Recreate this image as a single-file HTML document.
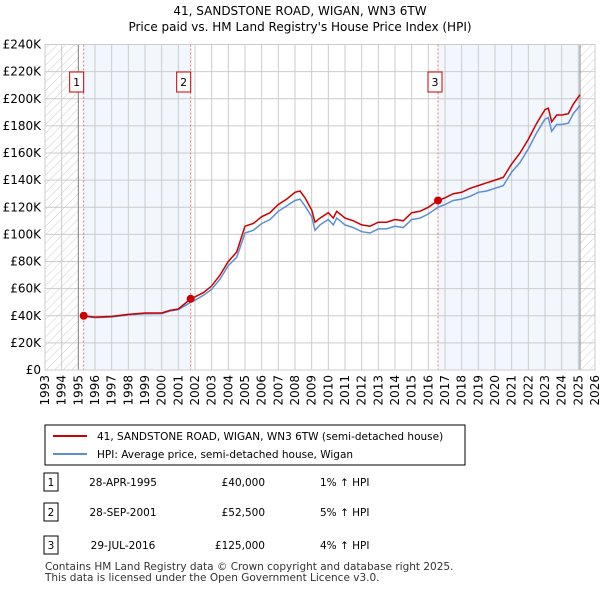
<!DOCTYPE html>
<html><head><meta charset="utf-8"><style>
body{margin:0;background:#fff;font-family:"DejaVu Sans",sans-serif;}
svg text{font-family:"DejaVu Sans",sans-serif;}
</style></head><body>
<svg id="c" width="600" height="590" xmlns="http://www.w3.org/2000/svg">
<defs><pattern id="h" width="6" height="6" patternUnits="userSpaceOnUse" patternTransform="rotate(45)"><line x1="0" y1="0" x2="0" y2="6" stroke="#ccc" stroke-width="1"/></pattern></defs>
<text x="300" y="15" text-anchor="middle" font-size="12">41, SANDSTONE ROAD, WIGAN, WN3 6TW</text>
<text x="300" y="31" text-anchor="middle" font-size="12">Price paid vs. HM Land Registry's House Price Index (HPI)</text>
<g id="plot"></g>
<g>
<rect x="45" y="425" width="420" height="40" fill="#fff" stroke="#000" stroke-width="1"/>
<line x1="53" y1="436" x2="87" y2="436" stroke="#cc0000" stroke-width="2"/>
<text x="97" y="440" font-size="10.5">41, SANDSTONE ROAD, WIGAN, WN3 6TW (semi-detached house)</text>
<line x1="53" y1="454" x2="87" y2="454" stroke="#5b8fd4" stroke-width="2"/>
<text x="97" y="458" font-size="10.5">HPI: Average price, semi-detached house, Wigan</text>
</g>
<g id="tbl" font-size="10.5"></g>
<text x="45" y="570" font-size="10.5" fill="#333">Contains HM Land Registry data © Crown copyright and database right 2025.</text>
<text x="45" y="581" font-size="10.5" fill="#333">This data is licensed under the Open Government Licence v3.0.</text>
</svg>
<script>
const yearTicks=[1993,1994,1995,1996,1997,1998,1999,2000,2001,2002,2003,2004,2005,2006,2007,2008,2009,2010,2011,2012,2013,2014,2015,2016,2017,2018,2019,2020,2021,2022,2023,2024,2025,2026];
const priceTicks=[0,20,40,60,80,100,120,140,160,180,200,220,240];
const redYears=[1995.3,1996,1997,1998,1999,2000,2000.5,2001,2001.75,2002,2002.5,2003,2003.5,2004,2004.5,2005,2005.5,2006,2006.5,2007,2007.5,2008,2008.3,2008.6,2009,2009.2,2009.5,2010,2010.3,2010.5,2011,2011.5,2012,2012.5,2013,2013.5,2014,2014.5,2015,2015.5,2016,2016.58,2017,2017.5,2018,2018.5,2019,2019.5,2020,2020.5,2021,2021.5,2022,2022.5,2023,2023.2,2023.4,2023.7,2024,2024.4,2024.7,2025.1];
const redVals=[40,39,39.5,41,42,42,44,45,52.5,54,57,62,70,80,87,106,108,113,116,122,126,131,132,127,118,109,112,116,112,117,112,110,107,106,109,109,111,110,116,117,120,125,127,130,131,134,136,138,140,142,152,160,170,182,192,193,183,188,188,189,196,203];
const blueYears=[1995.3,1996,1997,1998,1999,2000,2000.5,2001,2001.75,2002,2002.5,2003,2003.5,2004,2004.5,2005,2005.5,2006,2006.5,2007,2007.5,2008,2008.3,2008.6,2009,2009.2,2009.5,2010,2010.3,2010.5,2011,2011.5,2012,2012.5,2013,2013.5,2014,2014.5,2015,2015.5,2016,2016.58,2017,2017.5,2018,2018.5,2019,2019.5,2020,2020.5,2021,2021.5,2022,2022.5,2023,2023.2,2023.4,2023.7,2024,2024.4,2024.7,2025.1];
const blueVals=[39.6,38.6,39.1,40.6,41.5,41.6,43.5,44.5,50,51.5,55,59.5,67,77,83,101,103,108,111,117,121,125,126,121,113,103,107,111,107,112,107,105,102,101,104,104,106,105,111,112,115,120,122,125,126,128,131,132,134,136,146,153,163,175,185,186,176,181,181,182,189,195];
const saleYears=[1995.32,2001.74,2016.58];
const saleVals=[40,52.5,125];
const saleLabels=["1","2","3"];
const saleDates=["28-APR-1995","28-SEP-2001","29-JUL-2016"];
const salePrices=["£40,000","£52,500","£125,000"];
const saleHpi=["1% ↑ HPI","5% ↑ HPI","4% ↑ HPI"];

const X0=45,X1=595,Y0=370,Y1=44.5;
const x=y=>X0+(y-1993)/33*(X1-X0);
const yv=v=>Y0-v/240*(Y0-Y1);
const NS="http://www.w3.org/2000/svg";
const plot=document.getElementById('plot');
function mk(tag,attrs,parent){const e=document.createElementNS(NS,tag);for(const k in attrs)e.setAttribute(k,attrs[k]);(parent||plot).appendChild(e);return e;}
let e;
e=mk('rect',{x:x(1995.32),y:Y1,width:x(2001.74)-x(1995.32),height:Y0-Y1,fill:'#f2f6fd'});


e=mk('rect',{x:x(2016.58),y:Y1,width:x(2025.1)-x(2016.58),height:Y0-Y1,fill:'#f2f6fd'});


e=mk('rect',{x:X0,y:Y1,width:x(1995)-X0,height:Y0-Y1,fill:'url(#h)'});


e=mk('rect',{x:x(2025.1),y:Y1,width:X1-x(2025.1),height:Y0-Y1,fill:'url(#h)'});


priceTicks.forEach(v=>{
  e=mk('line',{x1:X0,x2:X1,y1:yv(v),y2:yv(v),stroke:'#ccc'});
  
  
  e=mk('text',{x:X0-4,y:yv(v)+4,'text-anchor':'end','font-size':12});
  e.textContent='£'+(v===0?'0':v+'K');
  
  
});
yearTicks.forEach(t=>{
  e=mk('line',{x1:x(t),x2:x(t),y1:Y1,y2:Y0,stroke:'#ccc'});
  
  
  e=mk('text',{transform:`translate(${x(t)+4},${Y0+5}) rotate(-90)`,'text-anchor':'end','font-size':12});
  e.textContent=t;
  
  
});
e=mk('line',{x1:x(1995),x2:x(1995),y1:Y1,y2:Y0,stroke:'#888'});


e=mk('line',{x1:x(2025.1),x2:x(2025.1),y1:Y1,y2:Y0,stroke:'#888'});


saleYears.forEach((s,i)=>{
  e=mk('line',{x1:x(s),x2:x(s),y1:Y1,y2:Y0,stroke:'#f07070','stroke-dasharray':'2,2'});
  
  
  const bx=x(s)-(i===2?10:14);
  e=mk('rect',{x:bx,y:72,width:14,height:20,fill:'#fff',stroke:'#cc0000'});
  
  
  e=mk('text',{x:bx+7,y:86,'text-anchor':'middle','font-size':11});
  e.textContent=saleLabels[i];
  
  
});
const pts=(ys,vs)=>ys.map((t,i)=>x(t).toFixed(1)+','+yv(vs[i]).toFixed(1)).join(' ');
e=mk('polyline',{points:pts(blueYears,blueVals),fill:'none',stroke:'#5b8fd4','stroke-width':1.5});


e=mk('polyline',{points:pts(redYears,redVals),fill:'none',stroke:'#cc0000','stroke-width':1.5});


saleYears.forEach((s,i)=>{
  e=mk('circle',{cx:x(s),cy:yv(saleVals[i]),r:4,fill:'#cc0000'});
  
  
});
e=mk('rect',{x:X0,y:Y1,width:X1-X0,height:Y0-Y1,fill:'none',stroke:'#ccc'});


const tbl=document.getElementById('tbl');
const rowY=[482,512,545];
rowY.forEach((ry,i)=>{
  e=mk('rect',{x:44,y:ry-9,width:14,height:18,fill:'#fff',stroke:'#000'},tbl);
  
  
  e=mk('text',{x:51,y:ry+4,'text-anchor':'middle'},tbl);e.textContent=saleLabels[i];
  
  
  e=mk('text',{x:123,y:ry+4,'text-anchor':'middle'},tbl);e.textContent=saleDates[i];
  
  
  e=mk('text',{x:265,y:ry+4,'text-anchor':'end'},tbl);e.textContent=salePrices[i];
  
  
  e=mk('text',{x:320,y:ry+4},tbl);e.textContent=saleHpi[i];
  
  
});
</script>
</body></html>
